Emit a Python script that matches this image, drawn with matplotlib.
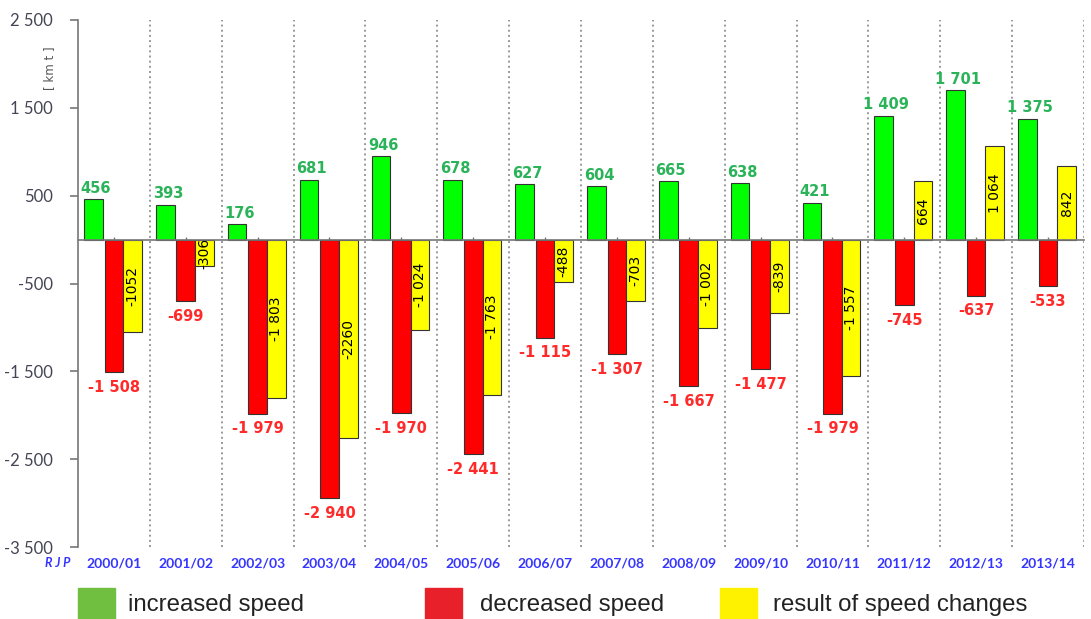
import matplotlib.pyplot as plt
import matplotlib.transforms as mtransforms
from matplotlib.patches import Rectangle
import numpy as np

seasons = ["2000/01", "2001/02", "2002/03", "2003/04", "2004/05", "2005/06", "2006/07",
           "2007/08", "2008/09", "2009/10", "2010/11", "2011/12", "2012/13", "2013/14"]
increased = [456, 393, 176, 681, 946, 678, 627, 604, 665, 638, 421, 1409, 1701, 1375]
decreased = [-1508, -699, -1979, -2940, -1970, -2441, -1115, -1307, -1667, -1477, -1979, -745, -637, -533]
result = [-1052, -306, -1803, -2260, -1024, -1763, -488, -703, -1002, -839, -1557, 664, 1064, 842]
result_labels = ["-1052", "-306", "-1 803", "-2260", "-1 024", "-1 763", "-488", "-703",
                 "-1 002", "-839", "-1 557", "664", "1 064", "842"]
yticks = [2500, 1500, 500, -500, -1500, -2500, -3500]


def fmt(v):
    s = "{:,}".format(abs(v)).replace(",", " ")
    return ("-" if v < 0 else "") + s


fig = plt.figure(figsize=(10.91, 6.19), dpi=100)
ax = fig.add_axes([0.0715, 0.116, 0.922, 0.852])

x = np.arange(len(seasons))
w = 0.26
ax.bar(x - 0.285, increased, w, color='#00ff00', edgecolor='#333333', lw=0.8, zorder=3)
ax.bar(x, decreased, w, color='#ff0000', edgecolor='#333333', lw=0.8, zorder=3)
ax.bar(x + w, result, w, color='#ffff00', edgecolor='#333333', lw=0.8, zorder=3)

for i in range(len(seasons)):
    ax.text(x[i] - 0.25, increased[i] + 40, fmt(increased[i]), ha='center', va='bottom',
            color='#2bb35a', fontsize=10.5, fontweight='bold', zorder=4)
    ax.text(x[i], decreased[i] - 90, fmt(decreased[i]), ha='center', va='top',
            color='#ff2a2a', fontsize=10.5, fontweight='bold', zorder=4)
    ax.text(x[i] + w, result[i] / 2, result_labels[i], ha='center', va='center',
            rotation=90, color='black', fontsize=10, zorder=4)

ax.set_xlim(-0.5, 13.5)
ax.set_ylim(-3500, 2500)

# dotted separators between seasons
for b in np.arange(0.5, 14, 1):
    ax.axvline(b, color='#999999', ls=':', lw=1.4, zorder=1)

ax.spines['right'].set_visible(False)
ax.spines['top'].set_visible(False)
ax.spines['left'].set_color('#777777')
ax.spines['left'].set_linewidth(1.2)
ax.spines['bottom'].set_position(('data', 0))
ax.spines['bottom'].set_color('#777777')
ax.spines['bottom'].set_linewidth(1.2)
ax.spines['bottom'].set_zorder(5)

ax.set_yticks(yticks)
ax.set_yticklabels([fmt(v) for v in yticks], fontsize=12, color='#454555', family='Lato')
ax.tick_params(axis='y', direction='out', length=6, color='#777777', width=1.2, pad=12)
ax.set_xticks(x)
ax.set_xticklabels([])
ax.tick_params(axis='x', direction='inout', length=5, color='#777777', width=1)

trans = mtransforms.blended_transform_factory(ax.transData, ax.transAxes)
for i, s in enumerate(seasons):
    ax.text(x[i], -0.03, s, transform=trans, ha='center', va='center',
            color='#3535ff', fontsize=10, family='Lato', fontweight='bold', clip_on=False)
ax.text(-0.6, -0.03, "R J P", transform=trans, ha='right', va='center', color='#3535ff',
        fontsize=9, fontstyle='italic', fontweight='bold', family='Lato')
fig.text(0.045, 0.89, "[ km t ]", rotation=90, ha='center', va='center',
         fontsize=8.5, color='#555555')

# legend
leg_items = [("increased speed", '#70bf41', 78, 128),
             ("decreased speed", '#e8202a', 425, 480),
             ("result of speed changes", '#fff200', 720, 773)]
for name, col, px, tx in leg_items:
    fig.patches.append(Rectangle((px / 1091, 0.0), 37 / 1091, 31 / 619, color=col,
                                 transform=fig.transFigure, figure=fig))
    fig.text(tx / 1091, 14 / 619, name, ha='left', va='center', fontsize=17.3,
             family='Liberation Sans', color='#222222')

fig.savefig('out.png', dpi=100)
